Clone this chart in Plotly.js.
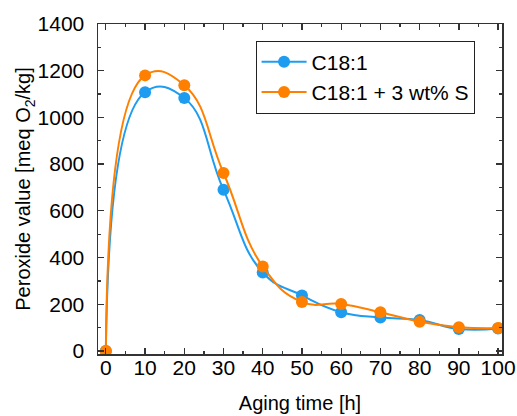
<!DOCTYPE html>
<html>
<head>
<meta charset="utf-8">
<script src="https://cdn.plot.ly/plotly-3.0.1.min.js"></script>
<style>html,body{margin:0;padding:0;background:#fff;}#chart{width:517px;height:416px;}</style>
</head>
<body>
<div id="chart"></div>
<script>
const agingTime = [0, 10, 20, 30, 40, 50, 60, 70, 80, 90, 100];
const c181 = [0, 1108, 1083, 690, 336, 238, 166, 143, 133, 94, 96];
const c181S = [0, 1180, 1138, 762, 362, 210, 201, 166, 125, 102, 98];
const seriesNames = ['C18:1', 'C18:1 + 3 wt% S'];
const colors = ['#1e9cf0', '#ff8000'];
const fam = '"Liberation Sans", Arial, sans-serif';
const titleFont = {family: fam, size: 20, color: '#000'};

const traces = [c181, c181S].map((ys, i) => ({
  x: agingTime, y: ys, name: seriesNames[i], type: 'scatter', mode: 'lines+markers',
  line: {color: colors[i], width: 2, shape: 'spline', smoothing: 1.3},
  marker: {color: colors[i], size: 12}
}));

function axis(extra) {
  return Object.assign({
    showgrid: false, zeroline: false, showline: true, linecolor: '#333', linewidth: 1.5,
    mirror: 'allticks', ticks: 'inside', ticklen: 6, tickwidth: 1.3, tickcolor: '#333',
    tickfont: {family: fam, size: 21, color: '#000'}
  }, extra);
}

const layout = {
  width: 517, height: 416,
  margin: {l: 98, r: 15, t: 24, b: 62},
  paper_bgcolor: '#fff', plot_bgcolor: '#fff',
  font: {family: fam, size: 21, color: '#000'},
  showlegend: true,
  legend: {x: 0.39, y: 0.95, xanchor: 'left', yanchor: 'top', bgcolor: '#fff',
    itemwidth: 45, tracegroupgap: 0,
    bordercolor: '#222', borderwidth: 1, font: {family: fam, size: 21, color: '#000'}},
  xaxis: axis({
    range: [-2, 101], dtick: 10, tick0: 0,
    minor: {dtick: 5, ticks: 'inside', ticklen: 3, tickcolor: '#333'},
    ticklabelstandoff: -6,
    title: {text: 'Aging time [h]', font: titleFont, standoff: 18}
  }),
  yaxis: axis({
    range: [-13, 1400], dtick: 200, tick0: 0,
    minor: {dtick: 100, ticks: 'inside', ticklen: 3, tickcolor: '#333'},
    ticklabelstandoff: 8,
    title: {text: 'Peroxide value [meq O<sub>2</sub>/kg]', font: titleFont, standoff: 1}
  })
};

Plotly.newPlot('chart', traces, layout, {displayModeBar: false, staticPlot: true});
</script>
</body>
</html>
